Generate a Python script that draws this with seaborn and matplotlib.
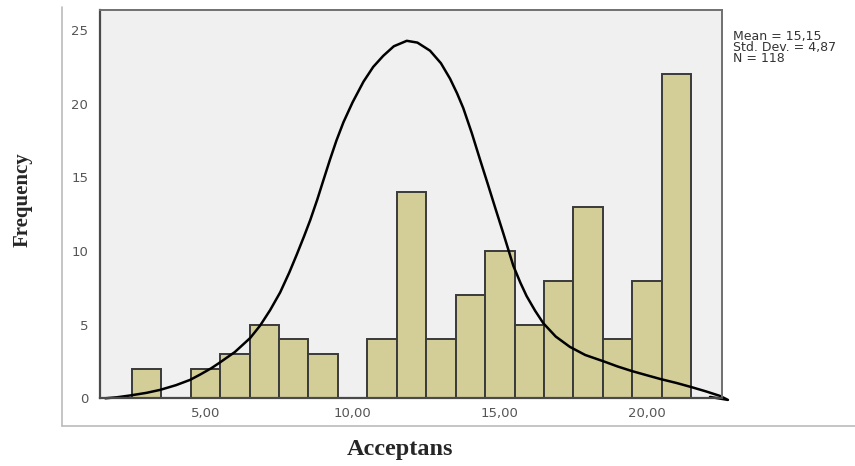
import numpy as np
import pandas as pd
import matplotlib.pyplot as plt
from matplotlib.lines import Line2D
import seaborn as sns


# ---------- data ----------
score_bins = [3, 4, 5, 6, 7, 8, 9, 10, 11, 12, 13, 14, 15, 16, 17, 18, 19, 20, 21]
frequency = [2, 0, 2, 3, 5, 4, 3, 0, 4, 14, 4, 7, 10, 5, 8, 13, 4, 8, 22]

# fitted curve as drawn (traced points, incl. the small hook at the right end)
curve_x = [1.60, 2.00, 2.44, 3.00, 3.46, 4.00, 4.48, 4.82, 5.20, 5.50, 6.00, 6.52,
           6.86, 7.20, 7.54, 7.85, 8.10, 8.35, 8.56, 8.80, 8.99, 9.23, 9.45, 9.69,
           10.00, 10.37, 10.70, 11.04, 11.40, 11.84, 12.20, 12.63, 13.00, 13.31,
           13.55, 13.76, 14.05, 14.33, 14.60, 14.85, 15.12, 15.46, 15.70, 15.91,
           16.20, 16.48, 16.90, 17.38, 17.90, 18.55, 19.00, 19.50, 20.00, 20.45,
           21.00, 21.49, 22.00, 22.48, 22.75, 22.14]
curve_y = [0.01, 0.08, 0.20, 0.38, 0.58, 0.90, 1.26, 1.62, 2.05, 2.45, 3.15, 4.10,
           4.95, 6.00, 7.20, 8.55, 9.75, 11.00, 12.10, 13.50, 14.70, 16.20, 17.50, 18.75,
           20.10, 21.50, 22.50, 23.25, 23.90, 24.27, 24.15, 23.60, 22.75, 21.70,
           20.70, 19.70, 18.00, 16.20, 14.50, 12.90, 11.20, 9.00, 7.85, 6.95,
           5.95, 5.10, 4.20, 3.50, 2.95, 2.50, 2.17, 1.85, 1.57, 1.32,
           1.05, 0.78, 0.48, 0.17, -0.10, 0.10]

x_ticks = [5, 10, 15, 20]
x_tick_labels = ["5,00", "10,00", "15,00", "20,00"]
y_ticks = [0, 5, 10, 15, 20, 25]
stats_text = "Mean = 15,15\nStd. Dev. = 4,87\nN = 118"

df = pd.DataFrame({"score": score_bins, "freq": frequency})

# ---------- plot ----------
sns.set_style("white")
fig = plt.figure(figsize=(8.55, 4.66), dpi=100)
ax = fig.add_axes([0.117, 0.145, 0.7275, 0.8335])
ax.set_facecolor("#F0F0F0")

sns.histplot(data=df, x="score", weights="freq", binwidth=1, binrange=(2.5, 21.5),
             color="#D3CE98", alpha=1, edgecolor="#3A3A3A", linewidth=1.4, ax=ax)

sns.lineplot(x=curve_x, y=curve_y, sort=False, estimator=None, color="black",
             linewidth=1.8, ax=ax, clip_on=False)

ax.set_xlim(1.42, 22.55)
ax.set_ylim(0, 26.36)
ax.set_xticks(x_ticks)
ax.set_xticklabels(x_tick_labels)
ax.set_yticks(y_ticks)
ax.tick_params(axis="both", colors="#4A4A4A", labelcolor="#555555", labelsize=9.5)
ax.tick_params(axis="y", length=7, width=1.3, pad=1.5)
ax.tick_params(axis="x", length=3.5, width=1.3, pad=3)
for lab in ax.get_xticklabels() + ax.get_yticklabels():
    lab.set_family("DejaVu Sans")

for side in ["left", "bottom"]:
    ax.spines[side].set_color("#4A4A4A")
    ax.spines[side].set_linewidth(1.6)
for side in ["top", "right"]:
    ax.spines[side].set_color("#707070")
    ax.spines[side].set_linewidth(1.4)

ax.set_xlabel("")
ax.set_ylabel("")
fig.text(0.468, 0.035, "Acceptans", ha="center", va="center", fontsize=17.5,
         fontweight="bold", family="Liberation Serif")
fig.text(0.026, 0.571, "Frequency", ha="center", va="center", rotation=90,
         fontsize=15, fontweight="bold", family="Liberation Serif")

fig.text(0.857, 0.935, stats_text, ha="left", va="top", fontsize=9,
         color="#333333", family="DejaVu Sans", linespacing=0.78)

# outer frame of the chart area (left + bottom)
fig.add_artist(Line2D([0.0725, 0.0725], [0.085, 0.985], transform=fig.transFigure,
                      color="#BBBBBB", linewidth=1.2))
fig.add_artist(Line2D([0.0725, 1.0], [0.085, 0.085], transform=fig.transFigure,
                      color="#BBBBBB", linewidth=1.2))

fig.savefig("out.png", dpi=100)
